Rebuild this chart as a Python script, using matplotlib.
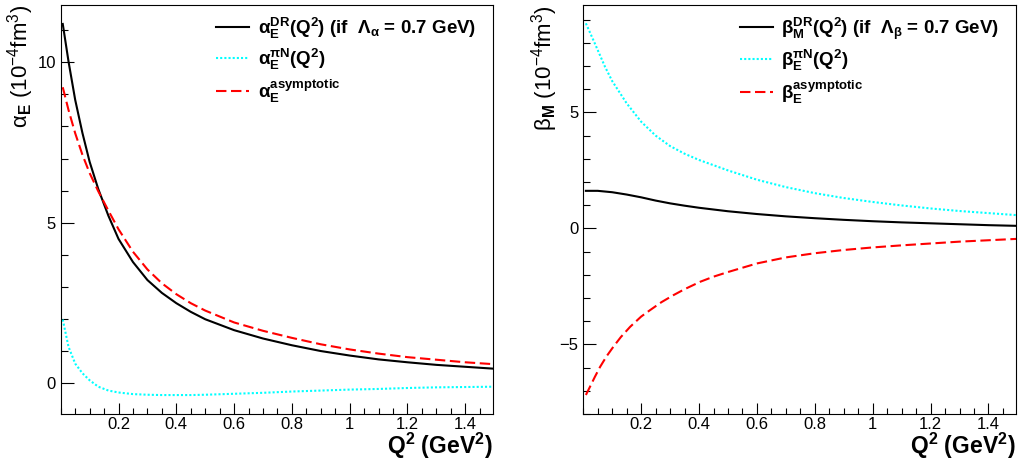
import matplotlib

matplotlib.use("Agg")
import matplotlib.pyplot as plt
from matplotlib.ticker import MultipleLocator

plt.rcParams["font.family"] = ["Liberation Sans", "DejaVu Sans"]
plt.rcParams["mathtext.fontset"] = "custom"
plt.rcParams["mathtext.rm"] = "Liberation Sans"
plt.rcParams["mathtext.it"] = "Liberation Sans"
plt.rcParams["mathtext.bf"] = "Liberation Sans:bold"
plt.rcParams["mathtext.default"] = "regular"

# --- alpha_E panel ---
q2_a = [0.007, 0.027, 0.05, 0.075, 0.1, 0.13, 0.165, 0.2, 0.25, 0.3, 0.35, 0.4, 0.45,
        0.5, 0.6, 0.7, 0.8, 0.9, 1.0, 1.1, 1.2, 1.3, 1.4, 1.5]
alpha_dr = [11.19, 10.02, 8.83, 7.80, 6.90, 6.05, 5.22, 4.50, 3.78, 3.22, 2.82, 2.50, 2.23,
            2.00, 1.66, 1.40, 1.19, 1.01, 0.87, 0.75, 0.66, 0.58, 0.52, 0.46]
alpha_asym = [9.22, 8.51, 7.79, 7.12, 6.55, 5.98, 5.38, 4.80, 4.10, 3.55, 3.12, 2.78, 2.50,
              2.27, 1.90, 1.64, 1.42, 1.22, 1.06, 0.93, 0.82, 0.74, 0.66, 0.60]
alpha_piN = [1.99, 1.14, 0.62, 0.32, 0.10, -0.10, -0.22, -0.28, -0.33, -0.35, -0.36, -0.36,
             -0.36, -0.35, -0.32, -0.29, -0.25, -0.22, -0.19, -0.17, -0.14, -0.12, -0.11, -0.10]

# --- beta_M panel ---
q2_b_dr = [0.009, 0.05, 0.1, 0.15, 0.2, 0.25, 0.3, 0.35, 0.4, 0.5, 0.6, 0.7, 0.8, 0.9,
           1.0, 1.1, 1.2, 1.3, 1.4, 1.5]
beta_dr = [1.62, 1.62, 1.56, 1.46, 1.34, 1.20, 1.08, 0.98, 0.89, 0.74, 0.62, 0.52, 0.44,
           0.37, 0.31, 0.26, 0.22, 0.18, 0.14, 0.11]
q2_b_piN = [0.009, 0.04, 0.075, 0.1, 0.15, 0.2, 0.25, 0.3, 0.35, 0.4, 0.5, 0.6, 0.7, 0.8,
            0.9, 1.0, 1.1, 1.2, 1.3, 1.4, 1.5]
beta_piN = [8.84, 7.97, 6.97, 6.35, 5.39, 4.60, 4.00, 3.55, 3.22, 2.95, 2.50, 2.10, 1.78,
            1.52, 1.31, 1.14, 0.99, 0.86, 0.75, 0.66, 0.57]
q2_b_asym = [0.009, 0.023, 0.04, 0.058, 0.08, 0.104, 0.13, 0.162, 0.2, 0.231, 0.27, 0.311,
             0.35, 0.404, 0.45, 0.5, 0.6, 0.7, 0.8, 0.9, 1.0, 1.1, 1.2, 1.3, 1.4, 1.5]
beta_asym = [-7.18, -6.83, -6.40, -5.97, -5.52, -5.10, -4.68, -4.24, -3.80, -3.52, -3.18,
             -2.88, -2.62, -2.30, -2.08, -1.88, -1.51, -1.25, -1.07, -0.93, -0.82, -0.73,
             -0.65, -0.57, -0.51, -0.45]

alpha_labels = [
    r"$\alpha^{\mathbf{DR}}_{\mathbf{E}}$(Q$^{\mathbf{2}}$) (if  $\Lambda_{\alpha}$ = 0.7 GeV)",
    r"$\alpha^{\pi\mathbf{N}}_{\mathbf{E}}$(Q$^{\mathbf{2}}$)",
    r"$\alpha^{\mathbf{asymptotic}}_{\mathbf{E}}$",
]
beta_labels = [
    r"$\beta^{\mathbf{DR}}_{\mathbf{M}}$(Q$^{\mathbf{2}}$) (if  $\Lambda_{\beta}$ = 0.7 GeV)",
    r"$\beta^{\pi\mathbf{N}}_{\mathbf{E}}$(Q$^{\mathbf{2}}$)",
    r"$\beta^{\mathbf{asymptotic}}_{\mathbf{E}}$",
]

fig = plt.figure(figsize=(10.19, 4.63), dpi=100)
ax1 = fig.add_axes([0.0596, 0.1058, 0.4239, 0.8834])
ax2 = fig.add_axes([0.5724, 0.1058, 0.4246, 0.8834])


def style(ax, ylim, yticks, ylabel, label_x):
    ax.set_xlim(0, 1.495)
    ax.set_ylim(*ylim)
    ax.xaxis.set_minor_locator(MultipleLocator(0.05))
    ax.yaxis.set_minor_locator(MultipleLocator(1))
    ax.set_xticks([0.2, 0.4, 0.6, 0.8, 1.0, 1.2, 1.4])
    ax.set_xticklabels(["0.2", "0.4", "0.6", "0.8", "1", "1.2", "1.4"])
    ax.set_yticks(yticks)
    ax.tick_params(which="both", direction="in", top=False, right=False, labelsize=12,
                   width=0.8)
    ax.tick_params(axis="x", which="major", length=8, pad=2.5)
    ax.tick_params(axis="x", which="minor", length=4)
    ax.tick_params(axis="y", which="major", length=9.5)
    ax.tick_params(axis="y", which="minor", length=5)
    ax.set_xlabel(r"Q$^{\mathbf{2}}$ (GeV$^{\mathbf{2}}$)", loc="right",
                  fontsize=16.5, fontweight="bold", labelpad=-1)
    ax.set_ylabel(ylabel, loc="top", fontsize=16)
    ax.yaxis.set_label_coords(label_x, 1.0)
    for sp in ax.spines.values():
        sp.set_linewidth(0.8)


def curves(ax, xs, ys, labels):
    ax.plot(xs[0], ys[0], color="black", lw=1.5, label=labels[0])
    ax.plot(xs[1], ys[1], color="#00ffff", lw=1.5, ls=(0, (1, 1)), label=labels[1])
    ax.plot(xs[2], ys[2], color="red", lw=1.5, ls=(0, (5, 2.2)), label=labels[2])
    ax.legend(loc="upper right", bbox_to_anchor=(1.0, 1.015), frameon=False,
              prop={"size": 13.5, "weight": "bold"}, handlelength=1.75,
              handletextpad=0.45, labelspacing=0.3)


curves(ax1, [q2_a, q2_a, q2_a], [alpha_dr, alpha_piN, alpha_asym], alpha_labels)
style(ax1, (-0.95, 11.78), [0, 5, 10], r"$\alpha_{\mathbf{E}}$ (10$^{-4}$fm$^{3}$)", -0.057)

curves(ax2, [q2_b_dr, q2_b_piN, q2_b_asym], [beta_dr, beta_piN, beta_asym], beta_labels)
style(ax2, (-8.0, 9.63), [-5, 0, 5], r"$\beta_{\mathbf{M}}$ (10$^{-4}$fm$^{3}$)", -0.054)

fig.savefig("out.png", dpi=100)
